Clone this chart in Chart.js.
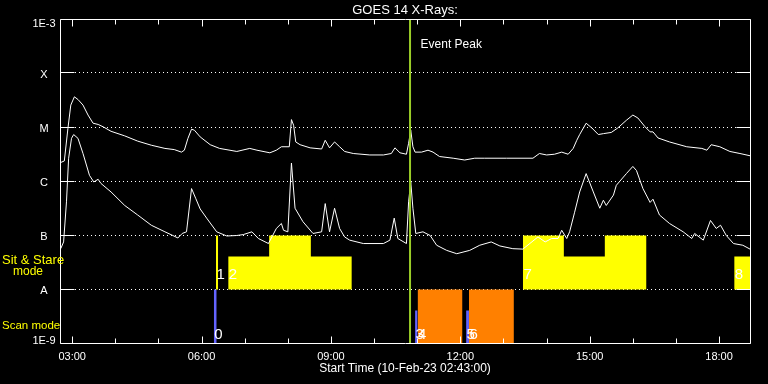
<!DOCTYPE html>
<html>
<head>
<meta charset="utf-8">
<script src="https://cdn.jsdelivr.net/npm/chart.js@4.4.1/dist/chart.umd.min.js"></script>
<style>
  html, body { margin: 0; padding: 0; background: #000; }
  canvas { display: block; }
</style>
</head>
<body>
<canvas id="c" width="768" height="384" style="width:768px;height:384px"></canvas>
<script>
// ---- Data (time = minutes after start 10-Feb-23 02:43:00) ----
const longTimes = [1,6,11,15,20,25,32,39,46,53,60,71,90,108,127,146,159,169,173,178,183,187,195,209,222,246,264,274,292,301,308,319,322,325,328,334,348,364,369,375,382,389,396,408,431,450,461,466,473,482,485,488,491,494,503,512,519,528,547,563,577,591,621,658,667,677,688,698,707,714,719,723,732,740,749,756,767,776,788,797,804,814,821,825,832,848,872,893,900,906,918,932,946,960];
const longFlux = [2.25e-6,2.4e-6,9.6e-6,2.6e-5,3.7e-5,3.3e-5,2.6e-5,1.7e-5,1.2e-5,1.14e-5,1.03e-5,8.5e-6,7.0e-6,5.6e-6,4.7e-6,4.1e-6,3.9e-6,3.5e-6,3.8e-6,6.3e-6,9.3e-6,8.9e-6,6.7e-6,4.8e-6,4.1e-6,3.6e-6,4.1e-6,3.8e-6,3.4e-6,3.8e-6,4.4e-6,4.4e-6,1.4e-5,1.1e-5,5.4e-6,4.8e-6,4.2e-6,4.0e-6,5.8e-6,4.2e-6,5.4e-6,4.4e-6,3.6e-6,3.3e-6,3.1e-6,3.1e-6,3.3e-6,4.2e-6,3.4e-6,3.2e-6,5.1e-6,8.9e-6,4.4e-6,3.5e-6,3.5e-6,3.8e-6,3.5e-6,2.9e-6,2.7e-6,2.5e-6,2.7e-6,2.7e-6,2.7e-6,2.7e-6,3.3e-6,3.1e-6,3.2e-6,3.5e-6,3.2e-6,4.1e-6,5.8e-6,7.4e-6,1.2e-5,9.8e-6,7.4e-6,7.7e-6,8.1e-6,9.8e-6,1.36e-5,1.7e-5,1.5e-5,1.03e-5,8.3e-6,8.3e-6,6.4e-6,5.4e-6,4.4e-6,4.1e-6,3.8e-6,4.8e-6,4.4e-6,3.6e-6,3.3e-6,3.0e-6];

const shortTimes = [1,5,9,12,16,19,25,32,41,47,53,57,71,90,108,127,146,157,164,170,176,183,189,195,204,218,232,246,255,267,276,290,301,308,311,317,322,327,338,352,364,369,375,382,389,396,403,422,450,459,465,470,482,485,488,491,495,505,515,524,538,552,570,584,600,612,630,644,665,675,684,693,698,705,709,716,723,732,742,751,756,760,770,774,788,797,802,811,821,825,834,848,867,879,883,895,905,913,919,927,937,950,960];
const shortFlux = [5.7e-8,7.6e-8,4.2e-7,2.7e-6,6.3e-6,7.4e-6,6.3e-6,3.3e-6,1.3e-6,9.8e-7,1.1e-6,9.2e-7,6.4e-7,3.6e-7,2.4e-7,1.55e-7,1.17e-7,1.0e-7,9.0e-8,1.09e-7,1.17e-7,7.4e-7,4.8e-7,3.1e-7,2.1e-7,1.17e-7,9.8e-8,1.0e-7,1.04e-7,1.17e-7,8.8e-8,7.1e-8,1.35e-7,1.67e-7,1.25e-7,1.17e-7,2.2e-6,3.2e-7,1.8e-7,1.09e-7,1.17e-7,3.9e-7,1.17e-7,3.2e-7,1.35e-7,9.4e-8,8.2e-8,7.1e-8,7.1e-8,8.2e-8,2.1e-7,8.8e-8,7.1e-8,4.2e-7,9.8e-7,3.2e-7,1.09e-7,1.17e-7,1.0e-7,6.6e-8,5.3e-8,4.6e-8,5.3e-8,6.6e-8,7.6e-8,6.4e-8,5.7e-8,5.6e-8,9.4e-8,7.6e-8,8.8e-8,8.8e-8,1.25e-7,8.8e-8,1.17e-7,2.7e-7,6.4e-7,1.4e-6,6.4e-7,3.2e-7,4.5e-7,3.6e-7,5.6e-7,8.5e-7,1.4e-6,1.9e-6,1.6e-6,7.4e-7,4.1e-7,4.7e-7,2.4e-7,1.67e-7,1.17e-7,8.8e-8,1.09e-7,8.2e-8,1.9e-7,1.35e-7,1.55e-7,1.0e-7,7.1e-8,6.6e-8,5.6e-8];

// Sit & Stare observations (band A..B)
const sitFrom = [217, 234, 291, 349, 644, 701, 758, 938];
const sitTo   = [220, 291, 349, 406, 701, 758, 816, 975];
const sitTop  = [1e-7, 4.1e-8, 1e-7, 4.1e-8, 1e-7, 4.1e-8, 1e-7, 4.1e-8];
const sitBase = 1e-8;
// Scan mode observations (band 1E-9..A)
const rasterFrom = [214, 494, 565];
const rasterTo   = [218, 497.5, 569];
const rasterTop  = [1e-8, 4.1e-9, 4.1e-9];
const scanFrom = [497.5, 569];
const scanTo   = [560, 631.5];
const scanTop  = [1e-8, 1e-8];
const scanBase = 1e-9;

const obsLabels = ['0','1','2','3','4','5','6','7','8'];
const obsLabelTimes = [214, 217, 234, 494, 497.5, 565, 569, 644, 938];
const obsLabelRow = ['scan','sit','sit','scan','scan','scan','scan','sit','sit'];

const eventPeakTime = 487;

const xMin = 0, xMax = 960;
const xTickTimes = [17, 197, 377, 557, 737, 917];
const xTickLabels = ['03:00','06:00','09:00','12:00','15:00','18:00'];
const yTickValues = [1e-9, 1e-8, 1e-7, 1e-6, 1e-5, 1e-4, 1e-3];
const yTickLabels = ['1E-9','A','B','C','M','X','1E-3'];

// ---- helpers ----
function runs(from, to, top) {
  const out = []; let cur = null;
  for (let i = 0; i < from.length; i++) {
    if (cur && Math.abs(cur.end - from[i]) < 1e-9) {
      cur.pts.push({x: from[i], y: top[i]}, {x: to[i], y: top[i]});
      cur.end = to[i];
    } else {
      cur = {end: to[i], pts: [{x: from[i], y: top[i]}, {x: to[i], y: top[i]}]};
      out.push(cur);
    }
  }
  return out.map(r => r.pts);
}
function blockDatasets(from, to, top, base, color) {
  return runs(from, to, top).map(pts => ({
    data: pts, fill: {value: base}, backgroundColor: color,
    borderColor: 'rgba(0,0,0,0)', borderWidth: 0, pointRadius: 0, order: 3
  }));
}

const datasets = [
  { data: [{x: eventPeakTime, y: 1e-9}, {x: eventPeakTime, y: 1e-3}],
    borderColor: 'rgb(154,205,40)', borderWidth: 2, pointRadius: 0, fill: false, order: 0 },
  { data: longTimes.map((t, i) => ({x: t, y: longFlux[i]})),
    borderColor: '#ffffff', borderWidth: 1, pointRadius: 0, fill: false, order: 1 },
  { data: shortTimes.map((t, i) => ({x: t, y: shortFlux[i]})),
    borderColor: '#ffffff', borderWidth: 1, pointRadius: 0, fill: false, order: 1 },
  ...blockDatasets(sitFrom, sitTo, sitTop, sitBase, '#ffff00'),
  ...blockDatasets(rasterFrom, rasterTo, rasterTop, scanBase, 'rgb(100,100,255)'),
  ...blockDatasets(scanFrom, scanTo, scanTop, scanBase, 'rgb(255,128,0)')
];

const FONT = '"Liberation Sans", Arial, sans-serif';

const bgPlugin = {
  id: 'bg',
  beforeDraw(chart) {
    const c = chart.ctx;
    c.save(); c.fillStyle = '#000'; c.fillRect(0, 0, chart.width, chart.height); c.restore();
  }
};

const gridPlugin = {
  id: 'grid',
  beforeDatasetsDraw(chart) {
    const c = chart.ctx, a = chart.chartArea, ys = chart.scales.y;
    c.save();
    c.strokeStyle = '#ffffff'; c.lineWidth = 1; c.setLineDash([1, 3]);
    yTickValues.forEach((v, i) => {
      if (i === 0 || i === yTickValues.length - 1) return;
      const y = Math.round(ys.getPixelForValue(v)) - 0.5;
      c.beginPath(); c.moveTo(a.left + 15, y); c.lineTo(a.right - 14, y); c.stroke();
    });
    c.restore();
  }
};

const framePlugin = {
  id: 'frame',
  afterDatasetsDraw(chart) {
    const c = chart.ctx, a = chart.chartArea, xs = chart.scales.x, ys = chart.scales.y;
    const L = Math.round(a.left) + 0.5, R = Math.round(a.right) + 0.5;
    const T = Math.floor(a.top) + 0.5, B = Math.floor(a.bottom) + 0.5;
    c.save();
    c.strokeStyle = '#ffffff'; c.lineWidth = 1; c.setLineDash([]);
    c.beginPath();
    c.moveTo(L, T); c.lineTo(R, T); c.lineTo(R, B); c.lineTo(L, B); c.closePath();
    c.stroke();
    // y ticks both sides
    yTickValues.forEach(v => {
      const y = Math.round(ys.getPixelForValue(v)) - 0.5;
      c.beginPath(); c.moveTo(L, y); c.lineTo(L + 14, y); c.stroke();
      c.beginPath(); c.moveTo(R, y); c.lineTo(R - 14, y); c.stroke();
    });
    // x ticks: hourly minor, 3-hourly major
    for (let t = xTickTimes[0] - 60 * Math.floor(xTickTimes[0] / 60); t <= xMax; t += 60) {
      const major = xTickTimes.indexOf(t) >= 0;
      const len = major ? 7 : 5;
      const x = Math.round(xs.getPixelForValue(t)) + 0.5;
      c.beginPath(); c.moveTo(x, B); c.lineTo(x, B - len); c.stroke();
      c.beginPath(); c.moveTo(x, T); c.lineTo(x, T + len); c.stroke();
    }
    // observation numbers
    c.fillStyle = '#ffffff';
    c.font = '15px ' + FONT;
    c.textAlign = 'left'; c.textBaseline = 'alphabetic';
    obsLabels.forEach((s, i) => {
      const x = xs.getPixelForValue(obsLabelTimes[i]) + 0.5;
      const y = obsLabelRow[i] === 'sit' ? ys.getPixelForValue(sitBase) - 11 : ys.getPixelForValue(scanBase) - 5;
      c.fillText(s, x, y);
    });
    // event peak label
    c.font = '12px ' + FONT;
    c.fillText('Event Peak', xs.getPixelForValue(eventPeakTime) + 10.5, a.top + 28);
    c.restore();
  },
  afterDraw(chart) {
    const c = chart.ctx, a = chart.chartArea, xs = chart.scales.x, ys = chart.scales.y;
    c.save();
    c.fillStyle = '#ffffff'; c.textBaseline = 'alphabetic';
    // title
    c.font = '13px ' + FONT; c.textAlign = 'center';
    c.fillText('GOES 14 X-Rays:', (a.left + a.right) / 2, 14);
    // y labels
    c.font = '11px ' + FONT; c.textAlign = 'center';
    yTickValues.forEach((v, i) => {
      let y = ys.getPixelForValue(v) + 4;
      y = Math.max(a.top + 7.5, Math.min(a.bottom, y));
      c.fillText(yTickLabels[i], 44, y);
    });
    // x labels
    xTickTimes.forEach((t, i) => {
      c.fillText(xTickLabels[i], xs.getPixelForValue(t), a.bottom + 16);
    });
    c.font = '12px ' + FONT;
    c.fillText('Start Time (10-Feb-23 02:43:00)', (a.left + a.right) / 2, a.bottom + 28);
    // mode labels
    c.fillStyle = '#ffff00'; c.textAlign = 'left';
    c.font = '13px ' + FONT;
    c.fillText('Sit & Stare', 2, 263.5);
    c.font = '12px ' + FONT;
    c.fillText('mode', 13, 275);
    c.font = '11.5px ' + FONT;
    c.fillText('Scan mode', 2, 328.5);
    c.restore();
  }
};

new Chart(document.getElementById('c').getContext('2d'), {
  type: 'line',
  data: { datasets },
  options: {
    responsive: false,
    animation: false,
    devicePixelRatio: 1,
    layout: { padding: { left: 60, right: 18, top: 19.5, bottom: 40.5 } },
    plugins: { legend: { display: false }, tooltip: { enabled: false }, title: { display: false } },
    scales: {
      x: { type: 'linear', min: xMin, max: xMax, display: false },
      y: { type: 'logarithmic', min: 1e-9, max: 1e-3, display: false }
    },
    elements: { line: { tension: 0 }, point: { radius: 0 } }
  },
  plugins: [bgPlugin, gridPlugin, framePlugin]
});
</script>
</body>
</html>
